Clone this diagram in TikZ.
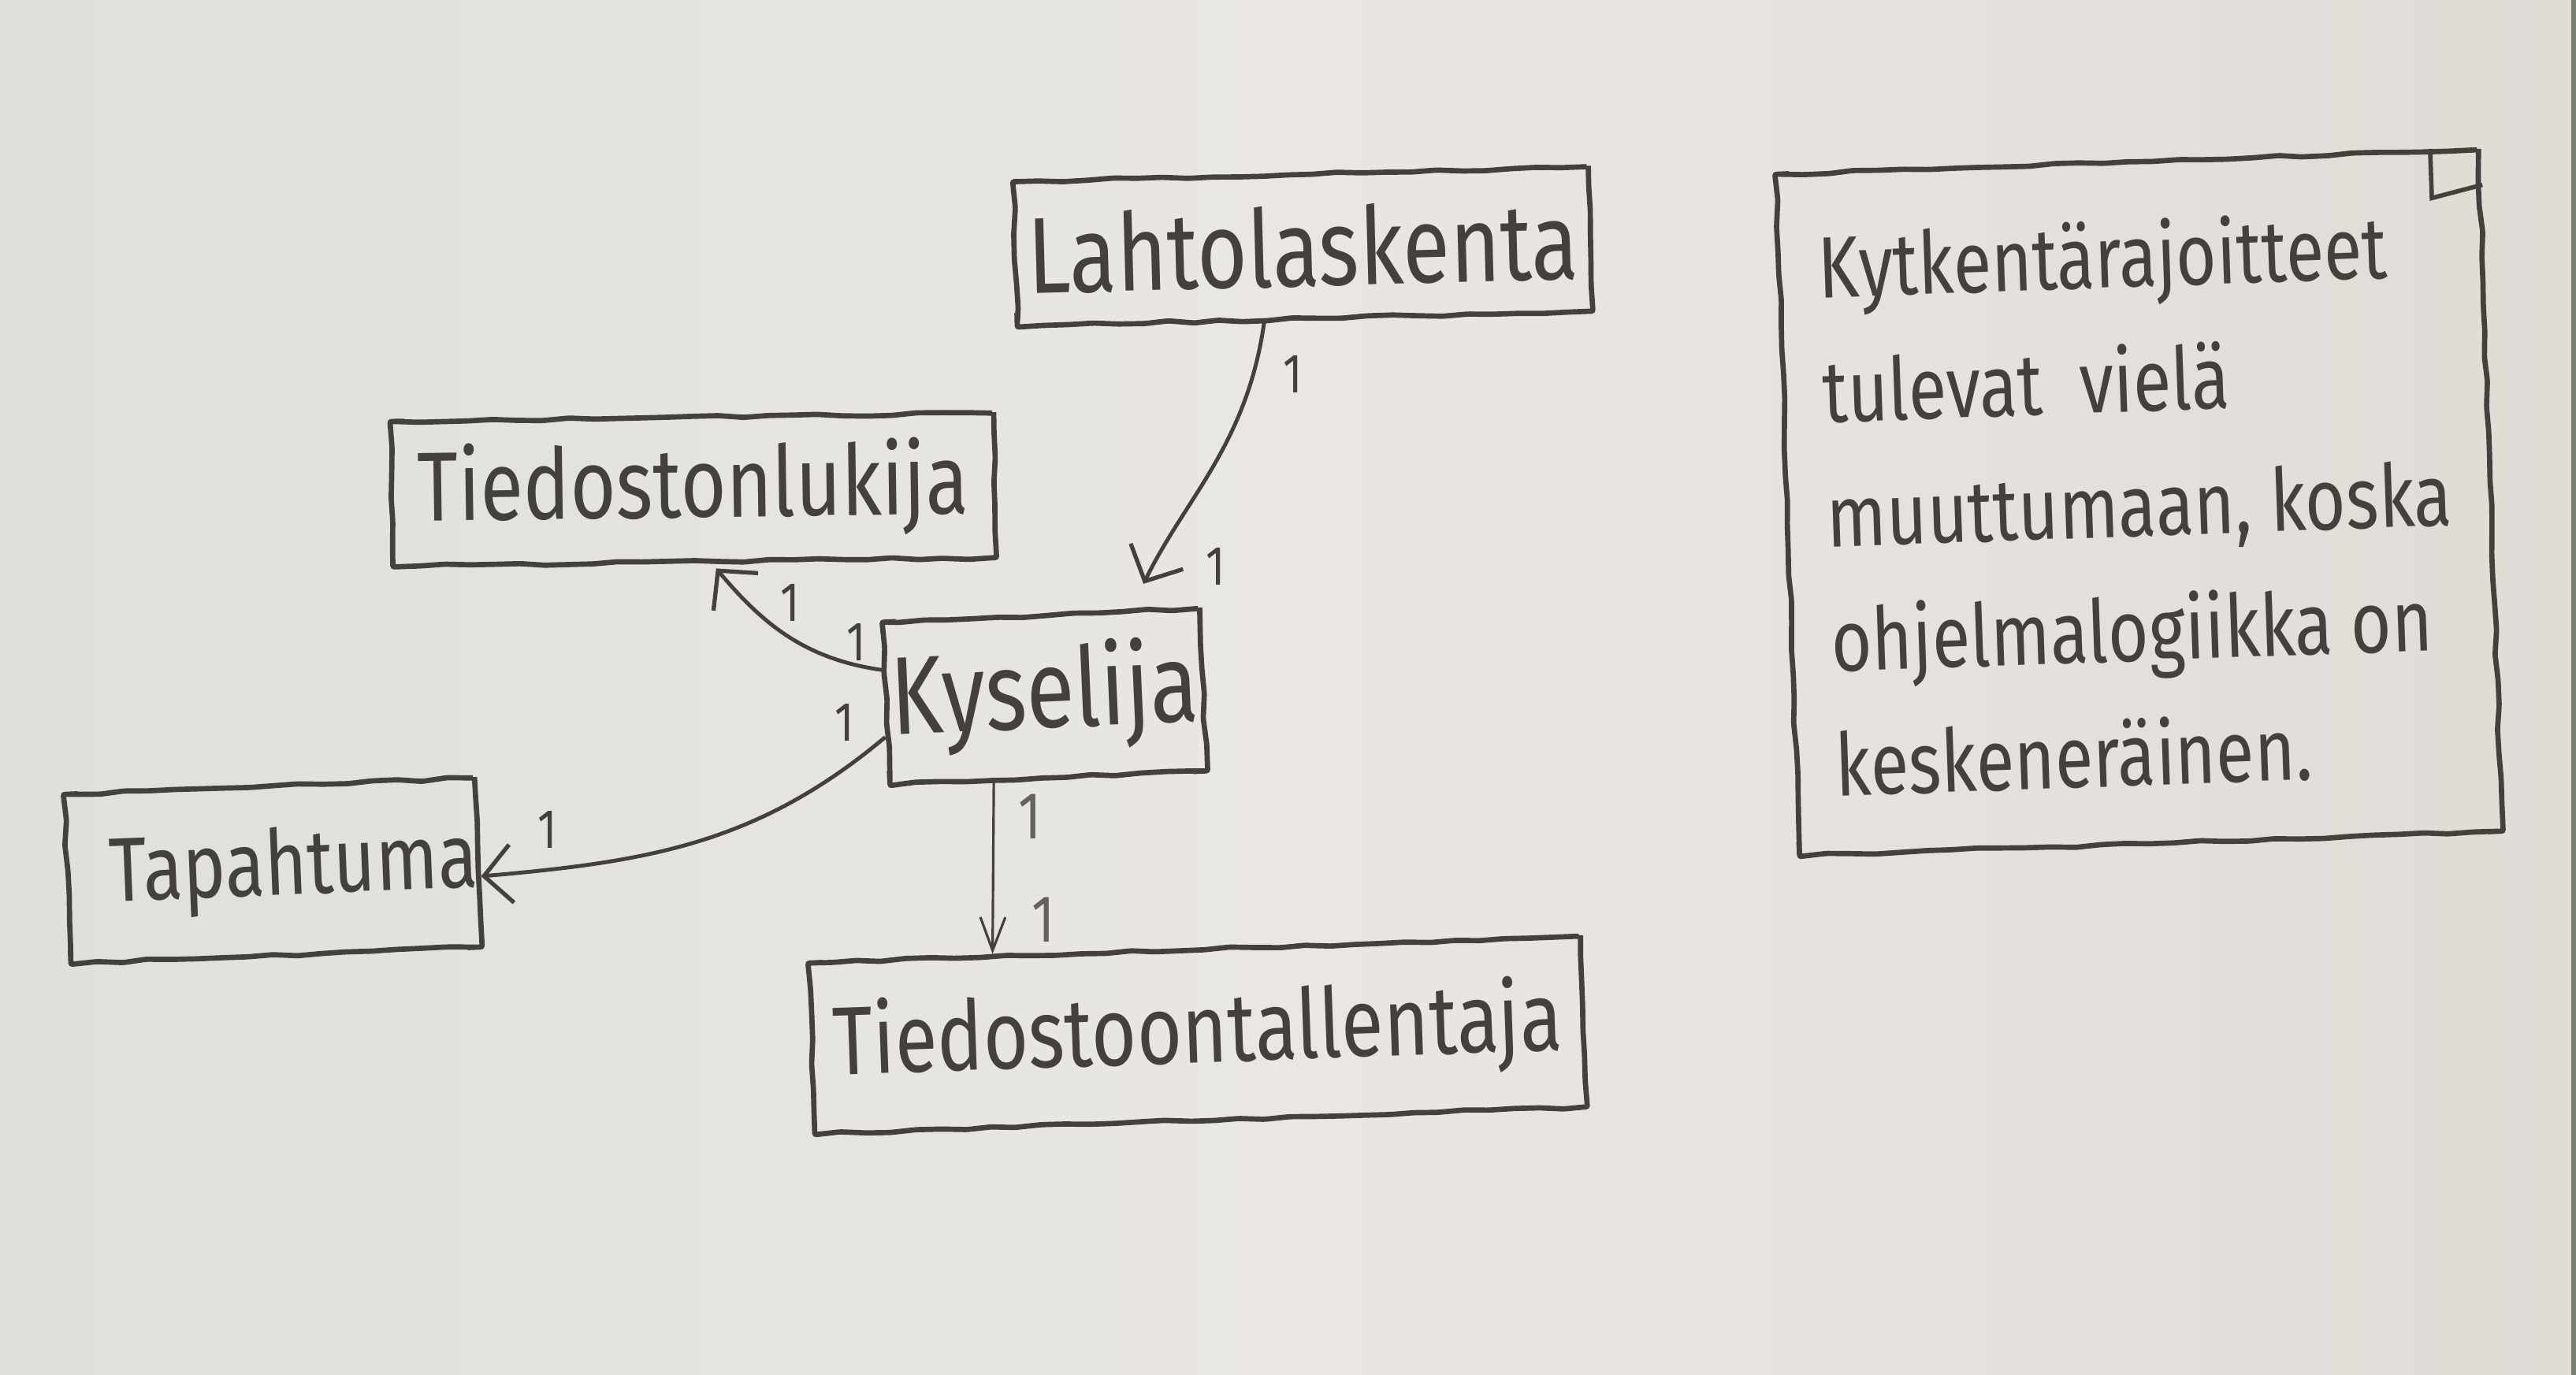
\documentclass[tikz,border=0pt]{standalone}
\usepackage{fontspec}
\setmainfont{Fira Sans}[FakeStretch=0.8]
\usetikzlibrary{arrows.meta,calc,decorations.pathmorphing}
\newcommand\upx{0.020848cm}
\definecolor{ink}{RGB}{68,64,60}
\definecolor{paperL}{RGB}{222,224,217}
\definecolor{paperM}{RGB}{234,231,227}
\definecolor{paperR}{RGB}{225,219,214}
\definecolor{edgestrip}{RGB}{120,126,116}
\tikzset{
  umlbox/.style={draw=ink, line width=1.9pt, text=ink, inner sep=0pt,
    decorate, decoration={random steps, segment length=9pt, amplitude=0.5pt},
    rounded corners=0.6pt, font=\fontsize{36}{40}\selectfont},
  conn/.style={draw=ink, line width=1.4pt,
    -{Straight Barb[length=10pt,width=21pt,line width=1.5pt]}},
  thinconn/.style={draw=ink, line width=0.9pt,
    -{Straight Barb[length=12pt,width=9pt,line width=0.9pt]}},
  mult/.style={text=ink, inner sep=0pt, font=\fontsize{20}{22}\selectfont},
  thinmult/.style={text=ink!80!paperM, inner sep=0pt, font=\fontsize{24}{26}\selectfont},
  foldline/.style={draw=ink, line width=1.6pt},
}
\pgfmathsetseed{7}
\begin{document}
\begin{tikzpicture}[x=\upx,y=\upx]
\useasboundingbox (0,0) rectangle (1568,-837);
\shade[left color=paperL, right color=paperR, middle color=paperM] (0,0) rectangle (1568,-837);
\fill[edgestrip] (1565,0) rectangle (1568,-837);

% classes
\node[umlbox, minimum width=350*\upx, minimum height=88*\upx, rotate=1.5, font=\fontsize{39}{42}\selectfont]
  (lahto) at (793,-150) {Lahtolaskenta};
\node[umlbox, minimum width=367*\upx, minimum height=88*\upx, rotate=0.8, font=\fontsize{35.5}{40}\selectfont]
  (tluk) at (422,-298) {Tiedostonlukija};
\node[umlbox, minimum width=193*\upx, minimum height=99*\upx, rotate=2.5, font=\fontsize{40}{42}\selectfont]
  (kys) at (636,-424) {Kyselija};
\node[umlbox, minimum width=250*\upx, minimum height=103*\upx, rotate=2.3, font=\fontsize{32.8}{38}\selectfont]
  (tap) at (166,-530) {\hspace*{15pt}Tapahtuma};
\node[umlbox, minimum width=470*\upx, minimum height=104*\upx, rotate=2, font=\fontsize{35}{40}\selectfont]
  (tall) at (729,-630) {Tiedostoontallentaja};

% note
\node[umlbox, minimum width=428*\upx, minimum height=415*\upx, rotate=2, align=left,
  font=\fontsize{31.5}{45}\selectfont]
  (note) at (1302,-306) {Kytkentärajoitteet\\tulevat \ vielä\\muuttumaan, koska\\ohjelmalogiikka on\\keskeneräinen.};
\begin{scope}[shift={(note.north east)}, rotate=2]
  \draw[foldline] (-31,0) -- (-31,-30) -- (0,-23);
\end{scope}

% connectors
\draw[conn, shorten >=10pt] ($(lahto.south west)!0.43!(lahto.south east)$)
  to[out=-98, in=64] ($(kys.north west)!0.78!(kys.north east)$);
\draw[conn, shorten >=2pt] ($(kys.north west)!0.3!(kys.south west)$)
  to[out=172, in=-50] ($(tluk.south west)!0.53!(tluk.south east)$);
\draw[conn] ($(kys.north west)!0.7!(kys.south west)$)
  to[out=-140, in=5] ($(tap.north east)!0.58!(tap.south east)$);
\draw[thinconn] ($(kys.south west)!0.33!(kys.south east)$)
  -- ($(tall.north west)!0.24!(tall.north east)$);

% multiplicities
\node[mult] (m1) at (787,-228) {1};
\node[mult] (m2) at (740,-345) {1};
\node[mult] (m3) at (481,-367) {1};
\node[mult] (m4) at (521,-391) {1};
\node[mult] (m5) at (514,-440) {1};
\node[mult] (m6) at (333,-505) {1};
\node[thinmult] (m7) at (627,-497) {1};
\node[thinmult] (m8) at (635,-560) {1};
\end{tikzpicture}
\end{document}
